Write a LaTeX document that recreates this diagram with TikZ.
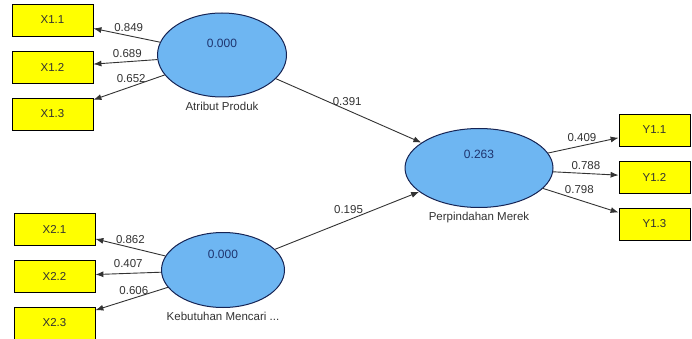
\documentclass[tikz,border=0pt]{standalone}
\usepackage{fontspec}
\setmainfont{Liberation Sans}
\usepackage{xcolor}
\usepackage{tikz}
\usetikzlibrary{shapes,arrows.meta,calc}

\definecolor{plsBlue}{RGB}{110,182,242}
\definecolor{plsNavy}{RGB}{22,36,84}
\definecolor{plsValue}{RGB}{30,52,110}
\definecolor{plsYellow}{RGB}{255,255,0}
\definecolor{plsGray}{RGB}{50,50,50}

\tikzstyle{tsSmall} = [ 
    text=plsGray, 
    font=\fontsize{11.5}{13}\selectfont
]
\tikzstyle{tsIndicator} = [ 
    rectangle,
    tsSmall,
    draw=black,
    line width=0.8pt,
    fill=plsYellow,
    minimum height=32pt,
    inner sep=0pt
]
\tikzstyle{tsLatent} = [ 
    ellipse,
    draw=plsNavy,
    line width=1pt,
    fill=plsBlue,
    inner sep=0pt
]
\tikzstyle{tsValue} = [ 
    text=plsValue, 
    font=\fontsize{12}{13}\selectfont
]
\tikzstyle{tsPath} = [ 
    -{Latex[length=8pt,width=6pt]},
    line width=0.9pt,
    draw=plsGray
]
\tikzstyle{tsCoef} = [ 
    tsSmall,
    above,
    inner sep=3.5pt
]

\begin{document}
\begin{tikzpicture}[x=1pt, y=-1pt]

        \useasboundingbox (0,0) rectangle (692,339);

        % Latent variables
        \node[tsLatent, minimum width=129pt, minimum height=84pt,
            label={[tsValue, yshift=12pt]center:0.000},
            label={[tsSmall, label distance=1pt]below:Atribut Produk}] (atr) at (222,55) {};
        \node[tsLatent, minimum width=123pt, minimum height=75pt,
            label={[tsValue, yshift=16pt]center:0.000},
            label={[tsSmall, label distance=1pt]below:Kebutuhan Mencari ...}] (keb) at (223,270) {};
        \node[tsLatent, minimum width=148pt, minimum height=79pt,
            label={[tsValue, yshift=14pt]center:0.263},
            label={[tsSmall, label distance=1pt]below:Perpindahan Merek}] (perp) at (479,168) {};

        % Indicators
        \node[tsIndicator, minimum width=81pt] (x11) at (52.5,20) {X1.1};
        \node[tsIndicator, minimum width=81pt] (x12) at (52.5,67) {X1.2};
        \node[tsIndicator, minimum width=81pt] (x13) at (52.5,114) {X1.3};
        \node[tsIndicator, minimum width=81pt] (x21) at (54.5,229) {X2.1};
        \node[tsIndicator, minimum width=81pt] (x22) at (54.5,276) {X2.2};
        \node[tsIndicator, minimum width=81pt] (x23) at (54.5,323) {X2.3};
        \node[tsIndicator, minimum width=71pt] (y11) at (654.5,130) {Y1.1};
        \node[tsIndicator, minimum width=71pt] (y12) at (654.5,177) {Y1.2};
        \node[tsIndicator, minimum width=71pt] (y13) at (654.5,224) {Y1.3};

        % Outer loadings
        \draw[tsPath] (atr) -- (x11) node[tsCoef, pos=0.47] {0.849};
        \draw[tsPath] (atr) -- (x12) node[tsCoef, pos=0.47] {0.689};
        \draw[tsPath] (atr) -- (x13) node[tsCoef, pos=0.47] {0.652};
        \draw[tsPath] (keb) -- (x21) node[tsCoef, pos=0.5] {0.862};
        \draw[tsPath] (keb) -- (x22) node[tsCoef, pos=0.5, yshift=2pt] {0.407};
        \draw[tsPath] (keb) -- (x23) node[tsCoef, pos=0.47] {0.606};
        \draw[tsPath] (perp) -- (y11) node[tsCoef, pos=0.48] {0.409};
        \draw[tsPath] (perp) -- (y12) node[tsCoef, pos=0.5] {0.788};
        \draw[tsPath] (perp) -- (y13) node[tsCoef, pos=0.48, yshift=2pt] {0.798};

        % Path coefficients
        \draw[tsPath] (atr) -- (perp) node[tsCoef, pos=0.49] {0.391};
        \draw[tsPath] (keb) -- (perp) node[tsCoef, pos=0.51, yshift=2pt] {0.195};

\end{tikzpicture}
\end{document}
